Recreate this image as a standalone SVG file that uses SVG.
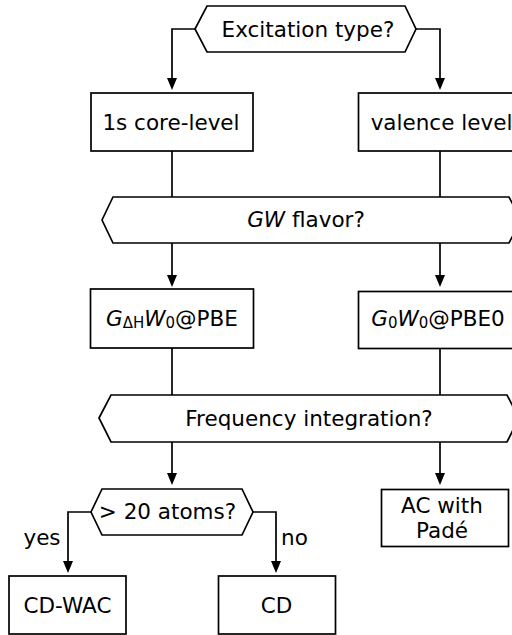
<svg xmlns="http://www.w3.org/2000/svg" width="512" height="635" viewBox="0 0 512 635">
  <style>
    .shape { fill: #ffffff; stroke: #000000; stroke-width: 1.7; stroke-linejoin: miter; }
    .wire { fill: none; stroke: #000000; stroke-width: 1.7; }
    .arrow { marker-end: url(#head); }
    text { font-family: "DejaVu Sans", "Liberation Sans", sans-serif; font-size: 21.5px; fill: #000000; }
    .mid { text-anchor: middle; }
    .it { font-style: italic; }
    .sub { font-size: 15px; }
  </style>
  <defs>
    <marker id="head" viewBox="0 0 12 10" refX="4" refY="5" markerWidth="12" markerHeight="10" markerUnits="userSpaceOnUse" orient="auto">
      <path d="M0,0 L12,5 L0,10 z" fill="#000000"/>
    </marker>
  </defs>

  <!-- connectors -->
  <g id="connectors">
    <path class="wire arrow" d="M195,29 H172 V82"/>
    <path class="wire arrow" d="M416,29 H440 V82"/>
    <path class="wire" d="M172,151 V197"/>
    <path class="wire" d="M440,151 V197"/>
    <path class="wire arrow" d="M172,243 V279"/>
    <path class="wire arrow" d="M440,243 V279"/>
    <path class="wire" d="M172,348 V395"/>
    <path class="wire" d="M440,348 V395"/>
    <path class="wire arrow" d="M172,442 V477"/>
    <path class="wire arrow" d="M440,442 V477"/>
    <path class="wire arrow" d="M91,512 H68 V565"/>
    <path class="wire arrow" d="M253,512 H276 V565"/>
    <text x="42" y="545" class="mid">yes</text>
    <text x="294.5" y="545" class="mid">no</text>
  </g>

  <!-- decision: excitation type -->
  <g id="excitation-type">
    <polygon class="shape" points="195,29 207,6 405,6 416,29 405,52 207,52"/>
    <text x="308" y="37" class="mid">Excitation type?</text>
  </g>

  <g id="core-level">
    <rect class="shape" x="91" y="93" width="162" height="58"/>
    <text x="171" y="129.5" class="mid">1s core-level</text>
  </g>

  <g id="valence-level">
    <rect class="shape" x="358.5" y="93" width="163" height="58"/>
    <text x="441.5" y="129.5" class="mid">valence level</text>
  </g>

  <!-- decision: GW flavor -->
  <g id="gw-flavor">
    <polygon class="shape" points="102,220 113,197 509,197 521,220 509,243 113,243"/>
    <text x="306" y="227" class="mid"><tspan class="it">GW</tspan> flavor?</text>
  </g>

  <g id="gdh-w0-pbe">
    <rect class="shape" x="90.5" y="289" width="163" height="59"/>
    <text x="172" y="325.5" class="mid"><tspan class="it">G</tspan><tspan class="sub" dy="2">ΔH</tspan><tspan class="it" dy="-2">W</tspan><tspan class="sub" dy="2">0</tspan><tspan dy="-2">@PBE</tspan></text>
  </g>

  <g id="g0w0-pbe0">
    <rect class="shape" x="358.5" y="291.5" width="163" height="57"/>
    <text x="438" y="325.5" class="mid"><tspan class="it">G</tspan><tspan class="sub" dy="2">0</tspan><tspan class="it" dy="-2">W</tspan><tspan class="sub" dy="2">0</tspan><tspan dy="-2">@PBE0</tspan></text>
  </g>

  <!-- decision: frequency integration -->
  <g id="frequency-integration">
    <polygon class="shape" points="99,418 111,395 507,395 519,418 507,442 111,442"/>
    <text x="309" y="425.5" class="mid">Frequency integration?</text>
  </g>

  <!-- decision: system size -->
  <g id="system-size">
    <polygon class="shape" points="91,512 102,489 242,489 253,512 242,535 102,535"/>
    <text x="167.5" y="519" class="mid">&gt; 20 atoms?</text>
  </g>

  <g id="ac-pade">
    <rect class="shape" x="381.5" y="489.5" width="127" height="57"/>
    <text x="442" y="513" class="mid">AC with</text>
    <text x="442" y="537.5" class="mid">Padé</text>
  </g>

  <g id="cd-wac">
    <rect class="shape" x="9" y="576" width="117" height="58"/>
    <text x="67.5" y="612.5" class="mid">CD-WAC</text>
  </g>

  <g id="cd">
    <rect class="shape" x="218.5" y="576" width="117" height="58"/>
    <text x="276.5" y="612.5" class="mid">CD</text>
  </g>
</svg>
